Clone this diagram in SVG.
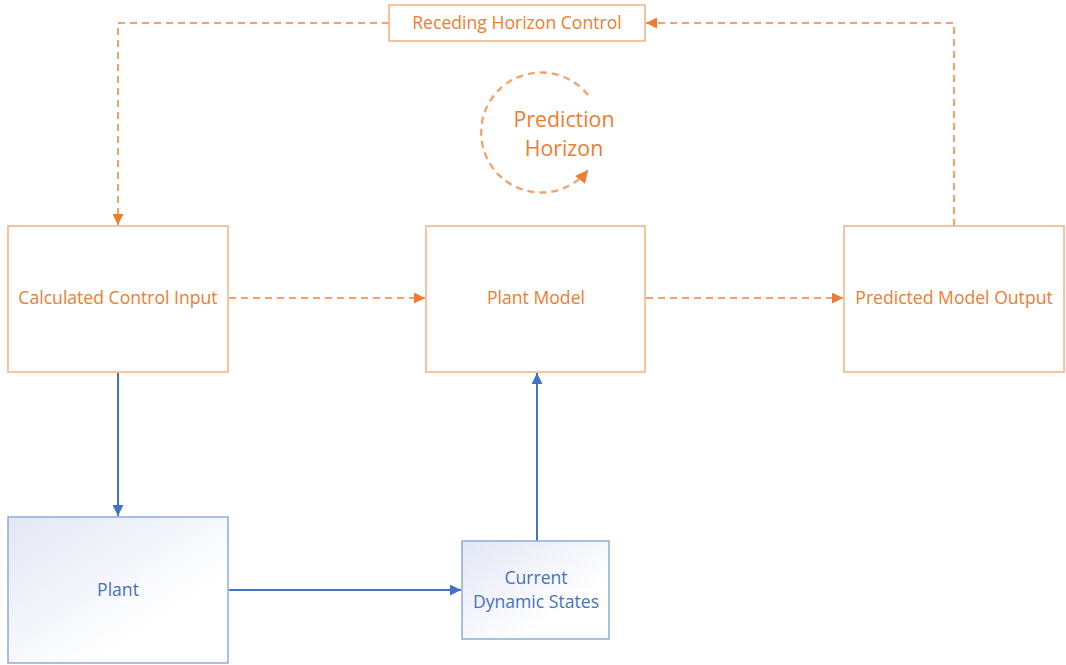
<svg xmlns="http://www.w3.org/2000/svg" width="1066" height="665" viewBox="0 0 1066 665">
<defs>
<style>
.ob{fill:#fff;stroke:#F4B183;stroke-width:1.5}
.bb{stroke:#8FAADC;stroke-width:1.5}
.ot{fill:#ED7D31;font-family:"Open Sans","Liberation Sans",Arial,sans-serif;font-size:17.6px;text-anchor:middle;dominant-baseline:central}
.bt{fill:#4472C4;font-family:"Open Sans","Liberation Sans",Arial,sans-serif;font-size:17.6px;text-anchor:middle;dominant-baseline:central}
.od{fill:none;stroke:#F4A26B;stroke-width:2;stroke-dasharray:7,5}
.bl{fill:none;stroke:#4472C4;stroke-width:2}
</style>
<linearGradient id="g" x1="0" y1="0" x2="1" y2="1">
<stop offset="0" stop-color="#E3E7F4"/>
<stop offset="0.7" stop-color="#FFFFFF"/>
</linearGradient>
<marker id="ao" viewBox="0 0 10 10" refX="10" refY="5" markerWidth="6" markerHeight="5.5" orient="auto" markerUnits="strokeWidth">
<path d="M0,0L10,5L0,10z" fill="#ED7D31"/>
</marker>
<marker id="ab" viewBox="0 0 10 10" refX="10" refY="5" markerWidth="6" markerHeight="5.5" orient="auto" markerUnits="strokeWidth">
<path d="M0,0L10,5L0,10z" fill="#4472C4"/>
</marker>
</defs>
<g id="connectors">
<path class="od" d="M954,226V23H646" marker-end="url(#ao)"/>
<path class="od" d="M389,23H118V225" marker-end="url(#ao)"/>
<path class="od" d="M229,298H425" marker-end="url(#ao)"/>
<path class="od" d="M646,298H843" marker-end="url(#ao)"/>
<path class="bl" d="M118,373V516" marker-end="url(#ab)"/>
<path class="bl" d="M229,590H461" marker-end="url(#ab)"/>
<path class="bl" d="M537,541V373" marker-end="url(#ab)"/>
<path class="od" style="stroke-width:2.3" d="M588,95A60,60 0 1 0 588,170" marker-end="url(#ao)"/>
</g>
<g id="receding">
<rect class="ob" x="389" y="5" width="256" height="36"/>
<text class="ot" x="517" y="22">Receding Horizon Control</text>
</g>
<g id="prediction">
<text class="ot" x="564" y="118" style="font-size:21.3px">Prediction</text>
<text class="ot" x="564" y="147" style="font-size:21.3px">Horizon</text>
</g>
<g id="calc">
<rect class="ob" x="8" y="226" width="220" height="146"/>
<text class="ot" x="118" y="297">Calculated Control Input</text>
</g>
<g id="model">
<rect class="ob" x="426" y="226" width="219" height="146"/>
<text class="ot" x="536" y="297">Plant Model</text>
</g>
<g id="output">
<rect class="ob" x="844" y="226" width="220" height="146"/>
<text class="ot" x="954" y="297">Predicted Model Output</text>
</g>
<g id="plant">
<rect class="bb" fill="url(#g)" x="8" y="517" width="220" height="146"/>
<text class="bt" x="118" y="589">Plant</text>
</g>
<g id="states">
<rect class="bb" fill="url(#g)" x="462" y="541" width="147" height="98"/>
<text class="bt" x="536" y="577">Current</text>
<text class="bt" x="536" y="601">Dynamic States</text>
</g>
</svg>
